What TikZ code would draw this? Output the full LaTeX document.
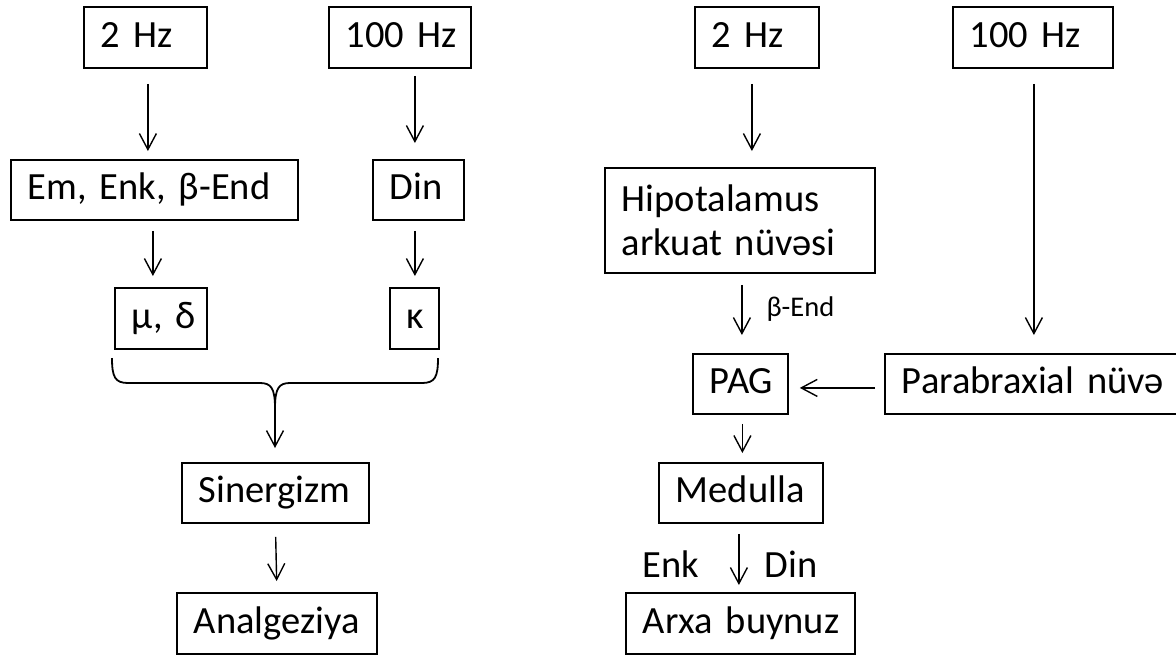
\documentclass[tikz,border=0pt]{standalone}
\usepackage{fontspec}
\setmainfont{Carlito}
\usetikzlibrary{arrows.meta,calc}
\begin{document}
\begin{tikzpicture}[x=1pt,y=-1pt,
  box/.style={draw, line width=1.8pt, anchor=north west, inner xsep=17pt, inner ysep=0pt,
    align=left, font=\fontsize{38.5}{43.5}\selectfont},
  one/.style={box, text height=28.9pt, text depth=9.6pt},
  arr/.style={line width=1.4pt, -{Straight Barb[length=16pt,width=17pt,line width=1.4pt]}},
  lbl/.style={inner sep=0pt, font=\fontsize{38.5}{43.5}\selectfont},
  slbl/.style={inner sep=0pt, font=\fontsize{28.5}{32}\selectfont},
  brace/.style={line width=1.8pt, line join=round}
]
\path[use as bounding box] (0,0) rectangle (1176,657);
\clip (0,0) rectangle (1176,657);
\fill[white] (0,0) rectangle (1176,657);
% ---------- left diagram ----------
\node[one, text width=89pt,  minimum height=61pt] (hzTwoL)  at (83,6)    {\mbox{2 Hz}};
\node[one, text width=108pt, minimum height=61pt] (hzHundL) at (328,6)   {\mbox{100 Hz}};
\node[one, text width=253pt, minimum height=60pt] (emL)     at (10,159)  {\mbox{Em, Enk, β-End}};
\node[one, text width=57pt,  minimum height=60pt] (dinL)    at (372,159) {\mbox{Din}};
\node[one, text width=58pt,  minimum height=61pt] (muL)     at (114,287) {\mbox{μ, δ}};
\node[one, text width=15pt,  minimum height=61pt] (kapL)    at (389,287) {\mbox{κ}};
\node[one, text width=153pt, minimum height=60pt] (sin)     at (181,462) {\mbox{Sinergizm}};
\node[one, text width=166pt, minimum height=61pt] (anal)    at (176,592) {\mbox{Analgeziya}};
\coordinate (tip) at (275,408);
\draw[arr, shorten <=15pt, shorten >=8pt] ([xshift=2.5pt]hzTwoL.south) -- ([xshift=2.5pt]hzTwoL.south |- emL.north);
\draw[arr, shorten <=7pt, shorten >=16pt] ([xshift=-3.5pt]dinL.north |- hzHundL.south) -- ([xshift=-3.5pt]dinL.north);
\draw[arr, shorten <=10pt, shorten >=11pt] ([xshift=-1.5pt]emL.south) -- ([xshift=-1.5pt]emL.south |- muL.north);
\draw[arr, shorten <=10pt, shorten >=11pt] ([xshift=0.5pt]kapL.north |- dinL.south) -- ([xshift=0.5pt]kapL.north);
\draw[brace] (112,358) .. controls (112,377) and (115,383) .. (128,383) -- (260,383)
  .. controls (271,383) and (275,388) .. (tip);
\draw[brace] (438,358) .. controls (438,377) and (435,383) .. (422,383) -- (290,383)
  .. controls (279,383) and (275,388) .. (tip);
\draw[arr, shorten >=14pt] (tip) -- (tip |- sin.north);
\draw[arr, shorten <=13pt, shorten >=11pt] (sin.south) -- (anal.north);
% ---------- right diagram ----------
\node[one, text width=90pt,  minimum height=61pt] (hzTwoR)  at (694,6)   {\mbox{2 Hz}};
\node[one, text width=126pt, minimum height=61pt] (hzHundR) at (952,6)   {\mbox{100 Hz}};
\node[box, text width=236pt, minimum height=105pt] (hipo)   at (604,167) {\mbox{Hipotalamus}\\\mbox{arkuat nüvəsi}};
\node[one, text width=61pt,  minimum height=60pt] (pag)     at (692,353) {\mbox{PAG}};
\node[one, text width=290pt, minimum height=60pt] (para)    at (884,353) {\mbox{Parabraxial nüvə}};
\node[one, text width=130pt, minimum height=60pt] (med)     at (658,462) {\mbox{Medulla}};
\node[one, text width=195pt, minimum height=61pt] (arxa)    at (625,592) {\mbox{Arxa buynuz}};
\draw[arr, shorten <=15pt, shorten >=16pt] ([xshift=-5pt]hzTwoR.south) -- ([xshift=-5pt]hzTwoR.south |- hipo.north);
\draw[arr, shorten <=15pt, shorten >=18pt] ([xshift=1pt]hzHundR.south) -- ([xshift=1pt]hzHundR.south |- para.north);
\draw[arr, shorten <=11pt, shorten >=18pt] ([xshift=2pt]hipo.south) -- node[slbl, pos=0.5, anchor=base west, xshift=24pt, yshift=-3.5pt] (bend) {β-End} ([xshift=2pt]hipo.south |- pag.north);
\draw[arr, shorten <=9pt, shorten >=11pt] ([yshift=-4pt]para.west) -- ([yshift=-4pt]pag.east);
\draw[arr, shorten <=9pt, shorten >=9pt] ([xshift=2pt]pag.south) -- ([xshift=2pt]pag.south |- med.north);
\draw[arr, shorten <=10pt, shorten >=7pt] ([xshift=-2pt]med.south) --
  node[lbl, pos=0.5, anchor=base east, xshift=-39pt, yshift=-20pt] (enk) {Enk}
  node[lbl, pos=0.5, anchor=base west, xshift=25pt, yshift=-20pt] (din2) {Din}
  ([xshift=-2pt]med.south |- arxa.north);
\end{tikzpicture}
\end{document}
